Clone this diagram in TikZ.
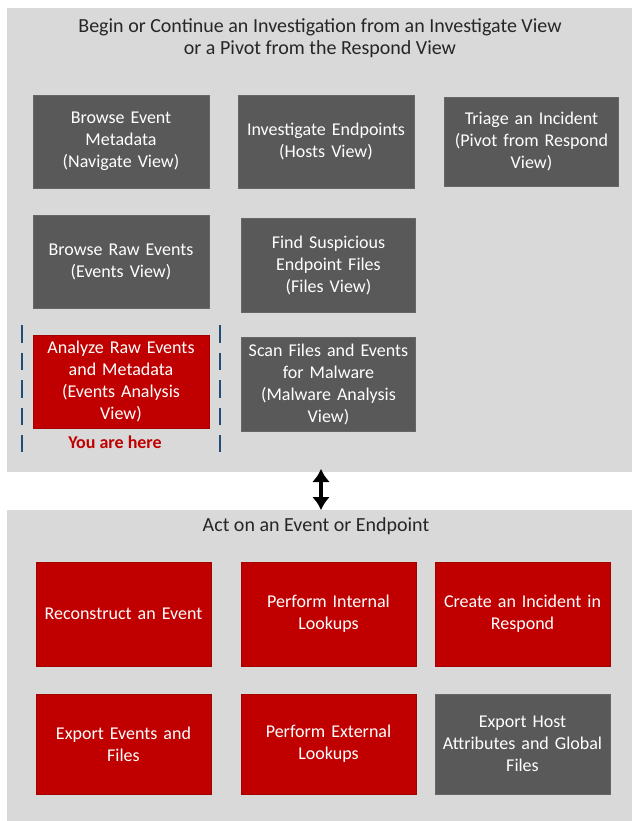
\documentclass[tikz,border=0pt]{standalone}
\usepackage{fontspec}
\setmainfont{Carlito}
\usetikzlibrary{arrows.meta}
\definecolor{panelgrey}{HTML}{D9D9D9}
\definecolor{boxgrey}{HTML}{595959}
\definecolor{boxred}{HTML}{C00000}
\definecolor{dashblue}{HTML}{1F4E79}
\tikzset{
  panel/.style={fill=panelgrey, draw=none, inner sep=0pt, anchor=north west},
  gbox/.style={fill=boxgrey, draw=gray!80!black, line width=0.6pt, text=white, align=center,
    font=\fontsize{18}{22}\selectfont, inner sep=1pt, text width=#1},
  gbox/.default=172pt,
  rbox/.style={gbox=#1, fill=boxred, draw=boxred!85!black},
  rbox/.default=172pt,
  ttl/.style={font=\fontsize{20}{21.5}\selectfont, align=center, text=black!85},
  dline/.style={draw=dashblue, line width=2pt, dash pattern=on 17.5pt off 10pt},
  bigarrow/.style={line width=3.5pt, {Latex[length=13pt,width=18pt]}-{Latex[length=13pt,width=18pt]}}
}
\begin{document}
\begin{tikzpicture}[x=1pt,y=-1pt]
\useasboundingbox (0,0) rectangle (632,821);
\fill[white] (0,0) rectangle (632,821);
% panels
\node[panel, minimum width=625pt, minimum height=464pt] (tp) at (7,8) {};
\node[panel, minimum width=625pt, minimum height=311pt] (bp) at (7,510) {};
% titles
\node[ttl] (t1) at (320,38) {Begin or Continue an Investigation from an Investigate View\\or a Pivot from the Respond View};
\node[ttl] (t2) at (316,526) {Act on an Event or Endpoint};
% top boxes
\node[gbox, minimum width=176pt, minimum height=93pt] (bem) at (121,141.5) {Browse Event\\Metadata\\(Navigate View)};
\node[gbox, minimum width=176pt, minimum height=93pt] (ie) at (326,141.5) {Investigate Endpoints\\(Hosts View)};
\node[gbox, minimum width=171pt, minimum height=89pt] (ti) at (531.5,141.5) {Triage an Incident\\(Pivot from Respond\\View)};
\node[gbox, minimum width=176pt, minimum height=93pt] (bre) at (121,261.5) {Browse Raw Events\\(Events View)};
\node[gbox, minimum width=171pt, minimum height=94pt] (fsef) at (328.5,265) {Find Suspicious\\Endpoint Files\\(Files View)};
\node[rbox, minimum width=176pt, minimum height=93pt] (are) at (121,381.5) {Analyze Raw Events\\and Metadata\\(Events Analysis\\View)};
\node[gbox, minimum width=171pt, minimum height=94pt] (sfe) at (328.5,384) {Scan Files and Events\\for Malware\\(Malware Analysis\\View)};
\node[font=\fontsize{18}{20}\selectfont\bfseries, text=boxred] (yah) at (115,442) {You are here};
\coordinate (d1a) at (22,325); \coordinate (d1b) at (22,452);
\coordinate (d2a) at (220,325); \coordinate (d2b) at (220,452);
\draw[dline] (d1a) -- (d1b);
\draw[dline] (d2a) -- (d2b);
% bottom boxes
\node[rbox, minimum width=175pt, minimum height=104pt] (rec) at (123.5,614) {Reconstruct an Event};
\node[rbox, minimum width=175pt, minimum height=104pt] (pil) at (328.5,614) {Perform Internal\\Lookups};
\node[rbox, minimum width=175pt, minimum height=104pt] (cii) at (522.5,614) {Create an Incident in\\Respond};
\node[rbox, minimum width=175pt, minimum height=100pt] (eef) at (123.5,744) {Export Events and\\Files};
\node[rbox, minimum width=175pt, minimum height=100pt] (pel) at (328.5,744) {Perform External\\Lookups};
\node[gbox, minimum width=175pt, minimum height=100pt] (ehg) at (522.5,744) {Export Host\\Attributes and Global\\Files};
% arrow
\coordinate (aa) at (321,469);
\coordinate (ab) at (321,510);
\draw[bigarrow] (aa) -- (ab);
\end{tikzpicture}
\end{document}
